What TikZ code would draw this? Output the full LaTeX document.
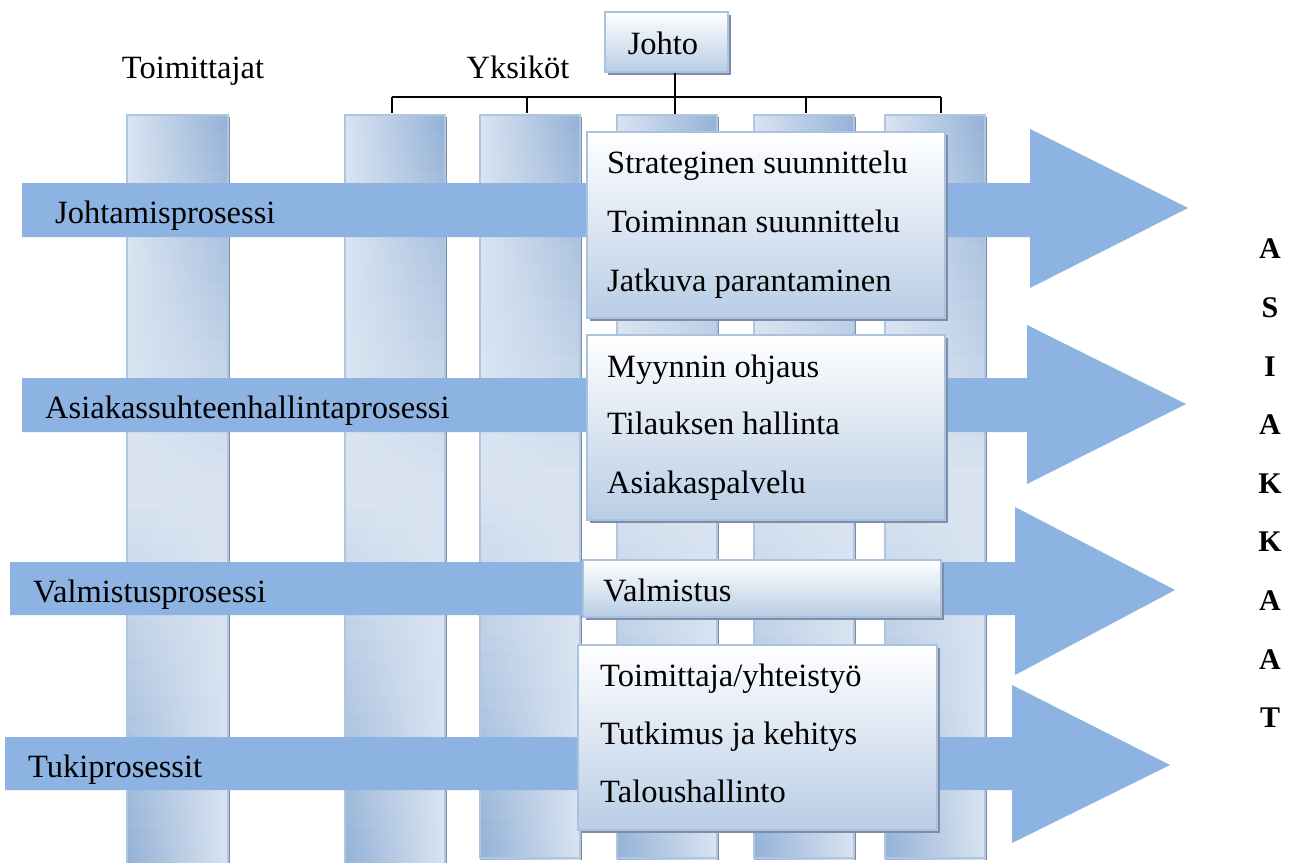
\documentclass[tikz,border=0pt]{standalone}
\usepackage{fontspec}
\setmainfont{Liberation Serif}
\usetikzlibrary{shadows}
\definecolor{band}{HTML}{8DB3E2}
\definecolor{plight}{HTML}{DAE4F1}
\definecolor{pdark}{HTML}{92B0D6}
\definecolor{pedge}{HTML}{AFC6E3}
\definecolor{shadowc}{HTML}{7F8EA6}
\definecolor{boxbot}{HTML}{B9CDE5}
\definecolor{boxedge}{HTML}{A9C2E0}
\newcommand\pillarx[3]{%
  \fill[shadowc] (#1+2,117) rectangle (#2+2,#3+2);
  \pgfmathsetmacro\pstep{(#3-115)/40}%
  \foreach \i in {0,...,39}{%
    \pgfmathsetmacro\ya{115+\i*\pstep}%
    \pgfmathsetmacro\yb{115+(\i+1)*\pstep+1}%
    \pgfmathtruncatemacro\pr{max(0,1-2*(\i+0.5)/40)*100}%
    \pgfmathtruncatemacro\pl{max(0,2*(\i+0.5)/40-1)*100}%
    \shade[left color=pdark!\pl!plight, right color=pdark!\pr!plight] (#1,\ya) rectangle (#2,\yb);
  }%
  \draw[pedge, line width=1.5] (#1,115) rectangle (#2,#3);
}
\begin{document}
\begin{tikzpicture}[x=1pt,y=-1pt,
  txt/.style={font=\fontsize{32.5}{36}\selectfont, inner sep=0pt, anchor=mid west},
  lbl/.style={font=\fontsize{32.5}{36}\selectfont, inner sep=0pt, anchor=mid},
  letter/.style={font=\fontsize{30}{32}\selectfont\bfseries, inner sep=0pt, anchor=center},
  procbox/.style={draw=boxedge, line width=1.2, top color=white, bottom color=boxbot,
    inner sep=0pt, drop shadow={shadow xshift=3pt, shadow yshift=-3pt, fill=shadowc, opacity=1}},
  bandarrow/.style={fill=band, draw=none},
  conn/.style={draw=black, line width=1.6}]
\useasboundingbox (0,0) rectangle (1298,862);
\fill[white] (0,0) rectangle (1298,862);

% pillars
\pillarx{127}{228}{866}
\pillarx{345}{445}{866}
\pillarx{480}{580}{858}
\pillarx{617}{717}{858}
\pillarx{754}{854}{858}
\pillarx{885}{985}{858}

% process bands with arrow heads
\path[bandarrow] (22,183) -- (1030,183) -- (1030,129) -- (1188,208) -- (1030,288) -- (1030,237) -- (22,237) -- cycle;
\path[bandarrow] (22,378) -- (1027,378) -- (1027,325) -- (1186,404) -- (1027,484) -- (1027,432) -- (22,432) -- cycle;
\path[bandarrow] (10,562) -- (1015,562) -- (1015,507) -- (1175,590) -- (1015,675) -- (1015,615) -- (10,615) -- cycle;
\path[bandarrow] (5,737) -- (1012,737) -- (1012,685) -- (1170,765) -- (1012,843) -- (1012,790) -- (5,790) -- cycle;

\node[txt] (p1) at (55,221) {Johtamisprosessi};
\node[txt] (p2) at (45,416) {Asiakassuhteenhallintaprosessi};
\node[txt] (p3) at (33,600) {Valmistusprosessi};
\node[txt] (p4) at (28,775) {Tukiprosessit};

% boxes
\node[procbox, minimum width=358, minimum height=186] (bA) at (766,225) {};
\node[procbox, minimum width=358, minimum height=185] (bB) at (766,427.5) {};
\node[procbox, minimum width=358, minimum height=57] (bC) at (762,588.5) {};
\node[procbox, minimum width=359, minimum height=185] (bD) at (757.5,737.5) {};

\node[txt] (a1) at (607,171) {Strateginen suunnittelu};
\node[txt] (a2) at (607,230) {Toiminnan suunnittelu};
\node[txt] (a3) at (607,289) {Jatkuva parantaminen};
\node[txt] (b1) at (607,375) {Myynnin ohjaus};
\node[txt] (b2) at (607,432) {Tilauksen hallinta};
\node[txt] (b3) at (607,491) {Asiakaspalvelu};
\node[txt] (c1) at (603,599) {Valmistus};
\node[txt] (d1) at (600,684) {Toimittaja/yhteistyö};
\node[txt] (d2) at (600,742) {Tutkimus ja kehitys};
\node[txt] (d3) at (600,800) {Taloushallinto};

% top
\node[procbox, minimum width=123, minimum height=60] (johto) at (666.5,42) {};
\node[lbl] (johtot) at (663,52) {Johto};
\node[lbl] (toim) at (193,76) {Toimittajat};
\node[lbl] (yks) at (518,76) {Yksiköt};

\coordinate (t2) at (392,113);
\coordinate (t3) at (527,113);
\coordinate (t4) at (675,114);
\coordinate (t5) at (806,113);
\coordinate (t6) at (941,113);
\coordinate (barL) at (392,97);
\coordinate (barR) at (941,97);
\draw[conn] (barL) -- (barR);
\draw[conn] (johto.south -| t4) -- (t4);
\foreach \t in {t2,t3,t5,t6} \draw[conn] (\t |- barL) -- (\t);

% customers
\foreach \l [count=\k from 0] in {A,S,I,A,K,K,A,A,T}
  \node[letter] (c\k) at (1270,249+58.6*\k) {\l};
\end{tikzpicture}
\end{document}
